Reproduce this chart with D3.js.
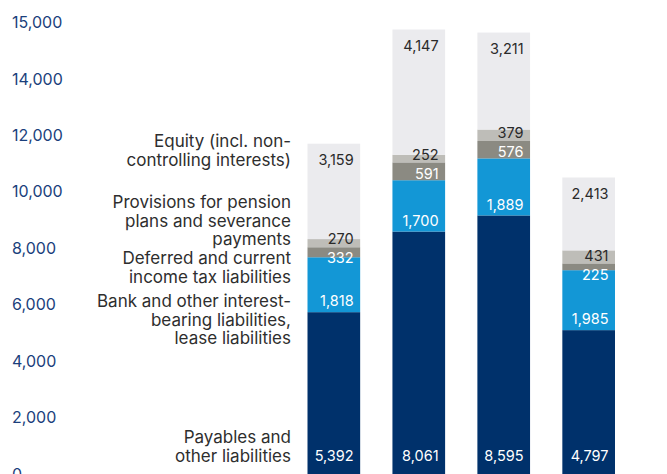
<!DOCTYPE html>
<html>
<head>
<meta charset="utf-8">
<script src="https://cdn.jsdelivr.net/npm/d3@7"></script>
<style>
  html, body { margin: 0; padding: 0; background: #ffffff; }
  svg { display: block; }
  text { font-family: Inter, "Liberation Sans", Arial, sans-serif; }
</style>
</head>
<body>
<svg id="chart" width="667" height="474"></svg>
<script>
// ---------- data ----------
const categories = ["Col 1", "Col 2", "Col 3", "Col 4"];
const payables = [5392, 8061, 8595, 4797];
const bankLiabilities = [1818, 1700, 1889, 1985];
const taxLiabilities = [332, 591, 576, 225];
const pensionProvisions = [270, 252, 379, 431];
const equity = [3159, 4147, 3211, 2413];
const seriesKeys = ["payables", "bank", "tax", "pension", "equity"];
const seriesLabels = [
  ["Payables and", "other liabilities"],
  ["Bank and other interest-", "bearing liabilities,", "lease liabilities"],
  ["Deferred and current", "income tax liabilities"],
  ["Provisions for pension", "plans and severance", "payments"],
  ["Equity (incl. non-", "controlling interests)"]
];
const tickLabels = ["0", "2,000", "4,000", "6,000", "8,000", "10,000", "12,000", "14,000", "15,000"];

// ---------- build table ----------
const table = categories.map((c, i) => ({
  category: c,
  payables: payables[i],
  bank: bankLiabilities[i],
  tax: taxLiabilities[i],
  pension: pensionProvisions[i],
  equity: equity[i]
}));

const colors = {
  payables: "#00316b",
  bank: "#1397d6",
  tax: "#8b8a82",
  pension: "#bebdb8",
  equity: "#ebebee"
};
const labelColors = {
  payables: "#ffffff",
  bank: "#ffffff",
  tax: "#ffffff",
  pension: "#2a2a2a",
  equity: "#2a2a2a"
};

const svg = d3.select("#chart");

const y = d3.scaleLinear().domain([0, 15000]).range([475, 22]);
const x = d3.scaleBand().domain(categories).range([307.5, 615]).paddingInner(0.38).paddingOuter(0);

// ---------- axis labels ----------
const yTicks = d3.scalePoint().domain(tickLabels).range([474, 22.5]);
const axis = svg.append("g")
  .attr("transform", "translate(12,0)")
  .call(d3.axisLeft(yTicks).tickSize(0).tickPadding(0));
axis.select(".domain").remove();
axis.selectAll("text")
  .attr("x", 0)
  .attr("text-anchor", "start")
  .attr("fill", "#1b3f7c")
  .style("font-size", "16px")
  .style("font-family", "Inter, 'Liberation Sans', Arial, sans-serif");

// ---------- stacks ----------
const stack = d3.stack().keys(seriesKeys)(table);

const layers = svg.append("g").selectAll("g")
  .data(stack)
  .join("g")
  .attr("fill", d => colors[d.key]);

layers.selectAll("rect")
  .data(d => d)
  .join("rect")
  .attr("x", d => x(d.data.category))
  .attr("width", x.bandwidth())
  .attr("y", d => y(d[1]))
  .attr("height", d => y(d[0]) - y(d[1]));

// ---------- value label positions ----------
const fmt = d3.format(",");
const labelPos = categories.map((c, i) => {
  const seg = {};
  stack.forEach(s => { seg[s.key] = s[i]; });
  const pos = {};
  pos.payables = y(seg.payables[0]) - 19.5;
  pos.bank = y(seg.bank[0]) - 11;
  pos.equity = y(seg.equity[1]) + 16;
  pos.pension = y(seg.pension[0]) - 8;
  pos.tax = Math.max(y(seg.tax[0]) - 8, pos.pension + 19);
  return pos;
});

const labels = svg.append("g");
stack.forEach(s => {
  labels.selectAll(null)
    .data(s)
    .join("text")
    .attr("x", d => x(d.data.category) + x.bandwidth() - 6.5)
    .attr("y", (d, i) => labelPos[i][s.key])
    .attr("dy", "0.36em")
    .attr("text-anchor", "end")
    .attr("fill", labelColors[s.key])
    .style("font-size", "14.5px")
    .text(d => fmt(d.data[s.key]));
});

// ---------- legend (aligned with first column's labels) ----------
const legendAnchor = { payables: "last", bank: "first", tax: "first", pension: "last", equity: "last" };
const lineH = 18.5;
const legend = svg.append("g");
seriesKeys.forEach((k, si) => {
  const lines = seriesLabels[si];
  const ref = labelPos[0][k];
  const startY = legendAnchor[k] === "first" ? ref : ref - (lines.length - 1) * lineH;
  lines.forEach((line, li) => {
    legend.append("text")
      .attr("x", 291)
      .attr("y", startY + li * lineH)
      .attr("dy", "0.36em")
      .attr("text-anchor", "end")
      .attr("fill", "#2e2e2e")
      .style("font-size", "17px")
      .text(line);
  });
});
</script>
</body>
</html>
